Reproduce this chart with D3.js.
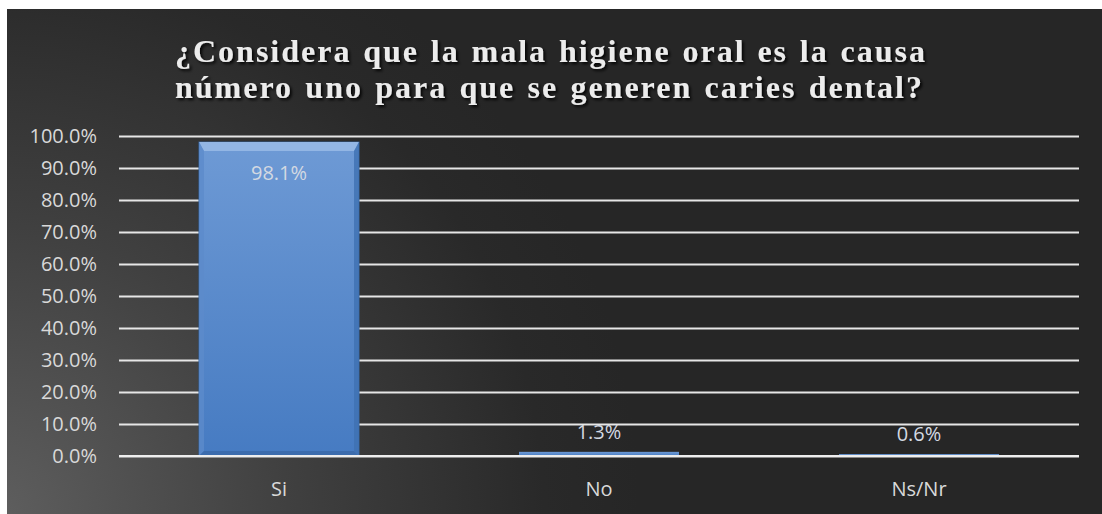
<!DOCTYPE html>
<html>
<head>
<meta charset="utf-8">
<script src="https://cdn.jsdelivr.net/npm/d3@7"></script>
<style>
  html, body { margin: 0; padding: 0; background: #ffffff; }
  svg { display: block; }
</style>
</head>
<body>
<svg id="chart" width="1102" height="514"></svg>
<script>
// Survey answers and their shares
const categories = ["Si", "No", "Ns/Nr"];
const values = [0.981, 0.013, 0.006];
const valueLabels = ["98.1%", "1.3%", "0.6%"];
const yTicks = [0, 0.1, 0.2, 0.3, 0.4, 0.5, 0.6, 0.7, 0.8, 0.9, 1.0];
const titleLines = [
  "¿Considera que la mala higiene oral es la causa",
  "número uno para que se generen caries dental?"
];

const W = 1102, H = 514;
const panel = { x: 7, y: 9, w: 1095, h: 505 };
const plot = { left: 119, right: 1079, top: 136, bottom: 456 };
const labelFont = "'Open Sans', 'Noto Sans', sans-serif";

const svg = d3.select("#chart");
const defs = svg.append("defs");

// Dark background, lighter toward the lower-left corner
const bg = defs.append("radialGradient")
  .attr("id", "bgGrad").attr("gradientUnits", "userSpaceOnUse")
  .attr("cx", 0).attr("cy", 514).attr("r", 640);
bg.append("stop").attr("offset", "0").attr("stop-color", "#5e5e5e");
bg.append("stop").attr("offset", "0.45").attr("stop-color", "#404040");
bg.append("stop").attr("offset", "0.85").attr("stop-color", "#292929");
bg.append("stop").attr("offset", "1").attr("stop-color", "#262626");

// Bar body fill
const barGrad = defs.append("linearGradient")
  .attr("id", "barGrad").attr("x1", 0).attr("y1", 0).attr("x2", 0).attr("y2", 1);
barGrad.append("stop").attr("offset", "0").attr("stop-color", "#6e9ad5");
barGrad.append("stop").attr("offset", "1").attr("stop-color", "#467bc2");

// Title drop shadow
const shadow = defs.append("filter").attr("id", "tshadow")
  .attr("x", "-5%").attr("y", "-30%").attr("width", "110%").attr("height", "160%");
shadow.append("feGaussianBlur").attr("in", "SourceAlpha").attr("stdDeviation", 1.6).attr("result", "b");
shadow.append("feOffset").attr("in", "b").attr("dx", 2).attr("dy", 2).attr("result", "o");
shadow.append("feComponentTransfer").attr("in", "o").attr("result", "s")
  .append("feFuncA").attr("type", "linear").attr("slope", 0.9);
const merge = shadow.append("feMerge");
merge.append("feMergeNode").attr("in", "s");
merge.append("feMergeNode").attr("in", "SourceGraphic");

svg.append("rect")
  .attr("x", panel.x).attr("y", panel.y)
  .attr("width", panel.w).attr("height", panel.h)
  .attr("fill", "url(#bgGrad)");

// Scales
const x = d3.scaleBand().domain(categories)
  .range([plot.left, plot.right]).paddingInner(0.5).paddingOuter(0.25);
const y = d3.scaleLinear().domain([0, 1]).range([plot.bottom, plot.top]);

// Gridlines and percentage ticks
const yAxis = d3.axisLeft(y).tickValues(yTicks)
  .tickSize(-(plot.right - plot.left)).tickPadding(22)
  .tickFormat(d3.format(".1%"));
const gy = svg.append("g")
  .attr("transform", `translate(${plot.left},0)`)
  .call(yAxis);
gy.select(".domain").remove();
gy.selectAll(".tick line").attr("stroke", "#e6e6e6").attr("stroke-width", 2);
gy.selectAll(".tick text")
  .attr("fill", "#d9d9d9")
  .style("font-family", labelFont)
  .style("font-size", "20px");

// Bars with bevelled edges
const bars = svg.append("g");
categories.forEach((c, i) => {
  const x0 = x(c), bw = x.bandwidth();
  const yt = y(values[i]), yb = y(0);
  const h = yb - yt;
  const g = bars.append("g");
  g.append("rect")
    .attr("x", x0).attr("y", yt).attr("width", bw).attr("height", h)
    .attr("fill", "url(#barGrad)")
    .attr("stroke", h > 20 ? "#34649f" : "none").attr("stroke-width", 1);
  if (h > 20) {
    const bt = 9, bs = 5;
    g.append("path")
      .attr("d", `M${x0},${yt}L${x0 + bw},${yt}L${x0 + bw - bs},${yt + bt}L${x0 + bs},${yt + bt}Z`)
      .attr("fill", "#93b6e4");
    g.append("path")
      .attr("d", `M${x0},${yt}L${x0 + bs},${yt + bt}L${x0 + bs},${yb - bs}L${x0},${yb}Z`)
      .attr("fill", "#5d8bca").attr("opacity", 0.8);
    g.append("path")
      .attr("d", `M${x0 + bw},${yt}L${x0 + bw - bs},${yt + bt}L${x0 + bw - bs},${yb - bs}L${x0 + bw},${yb}Z`)
      .attr("fill", "#3f70b2").attr("opacity", 0.8);
    g.append("path")
      .attr("d", `M${x0},${yb}L${x0 + bs},${yb - bs}L${x0 + bw - bs},${yb - bs}L${x0 + bw},${yb}Z`)
      .attr("fill", "#3c6cad");
  }
});

// Baseline drawn over the bars
svg.append("line")
  .attr("x1", plot.left).attr("x2", plot.right)
  .attr("y1", y(0)).attr("y2", y(0))
  .attr("stroke", "#eeeeee").attr("stroke-width", 2);

// Value labels
svg.append("g").selectAll("text")
  .data(categories)
  .join("text")
  .attr("x", d => x(d) + x.bandwidth() / 2)
  .attr("y", (d, i) => values[i] > 0.5 ? y(values[i]) + 31 : y(values[i]) - 20)
  .attr("dy", "0.35em")
  .attr("text-anchor", "middle")
  .attr("fill", "#d3d9e2")
  .style("font-family", labelFont)
  .style("font-size", "20px")
  .text((d, i) => valueLabels[i]);

// Category labels
svg.append("g").selectAll("text")
  .data(categories)
  .join("text")
  .attr("x", d => x(d) + x.bandwidth() / 2)
  .attr("y", 489)
  .attr("dy", "0.35em")
  .attr("text-anchor", "middle")
  .attr("fill", "#d9d9d9")
  .style("font-family", labelFont)
  .style("font-size", "20px")
  .text(d => d);

// Title: fixed tracking, word gaps adjusted so both lines share one measure
const title = svg.append("g").attr("filter", "url(#tshadow)");
const titleY = [62, 98];
const titleWidth = 752;
const tracking = 2;
titleLines.forEach((line, i) => {
  const t = title.append("text")
    .attr("x", 175).attr("y", titleY[i])
    .attr("fill", "#ececec")
    .style("font-family", "'Liberation Serif', 'Times New Roman', serif")
    .style("font-weight", "bold")
    .style("font-size", "32px")
    .style("letter-spacing", tracking + "px")
    .text(line);
  const spaces = line.split(" ").length - 1;
  const w = t.node().getComputedTextLength();
  const target = i === 0 ? titleWidth : titleWidth - 3;
  t.style("word-spacing", ((target - w) / spaces) + "px");
});
</script>
</body>
</html>
